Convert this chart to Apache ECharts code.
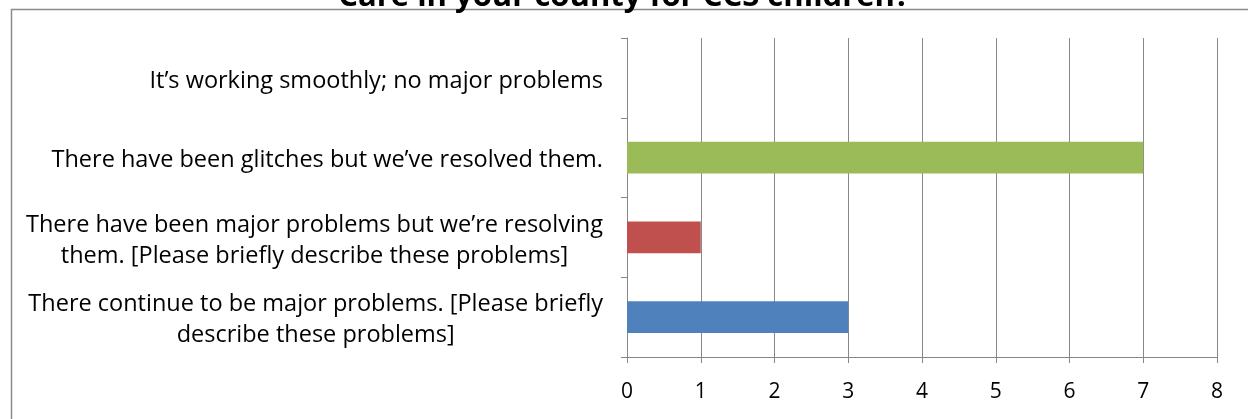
<!DOCTYPE html>
<html><head><meta charset="utf-8">
<script src="https://cdn.jsdelivr.net/npm/echarts@6/dist/echarts.min.js"></script>
<style>html,body{margin:0;padding:0;background:#fff}#c{width:1248px;height:419px}</style>
</head><body><div id="c"></div>
<script>
const titleText = 'Care in your county for CCS children?';
const categories = [
  'There continue to be major problems. [Please briefly\ndescribe these problems]',
  'There have been major problems but we\u2019re resolving\nthem. [Please briefly describe these problems]',
  'There have been glitches but we\u2019ve resolved them.',
  'It\u2019s working smoothly; no major problems'
];
const values = [3, 1, 7, 0];
const colors = ['#4F81BD', '#C0504D', '#9BBB59', '#8064A2'];
const xTicks = [0, 1, 2, 3, 4, 5, 6, 7, 8];

const FONT = '"Open Sans", "Liberation Sans", sans-serif';
const chart = echarts.init(document.getElementById('c'));
chart.setOption({
  animation: false,
  title: {
    text: titleText, left: 'center', top: -26,
    textStyle: {fontFamily: FONT, fontWeight: 'bold', fontSize: 31, color: '#000', lineHeight: 36}
  },
  graphic: [{
    type: 'rect', shape: {x: 11.5, y: 9.5, width: 1400, height: 600},
    style: {fill: 'none', stroke: '#8a8a8a', lineWidth: 1.5}, silent: true, z: -1
  }],
  grid: {left: 627, right: 31, top: 38, bottom: 62, containLabel: false},
  xAxis: {
    type: 'value', min: xTicks[0], max: xTicks[xTicks.length - 1], interval: 1,
    axisLine: {show: true, lineStyle: {color: '#888', width: 1}},
    axisTick: {show: true, length: 6, lineStyle: {color: '#888'}},
    splitLine: {show: true, lineStyle: {color: '#888', width: 1}},
    axisLabel: {fontFamily: FONT, fontSize: 21, color: '#000', margin: 25}
  },
  yAxis: {
    type: 'category', data: categories,
    axisLine: {show: true, lineStyle: {color: '#888', width: 1}},
    axisTick: {show: true, length: 6, lineStyle: {color: '#888'}},
    axisLabel: {
      fontFamily: FONT, fontSize: 23.5, color: '#000', margin: 24, lineHeight: 31,
      padding: [6, 0, 0, 0],
      formatter: v => v.split('\n').map(s => '{c|' + s + '}').join('\n'),
      rich: {c: {fontFamily: FONT, fontSize: 23.5, color: '#000', lineHeight: 31, align: 'center'}}
    }
  },
  series: [{
    type: 'bar', barWidth: '40%',
    data: values.map((v, i) => ({value: v, itemStyle: {color: colors[i]}}))
  }]
});
</script></body></html>
